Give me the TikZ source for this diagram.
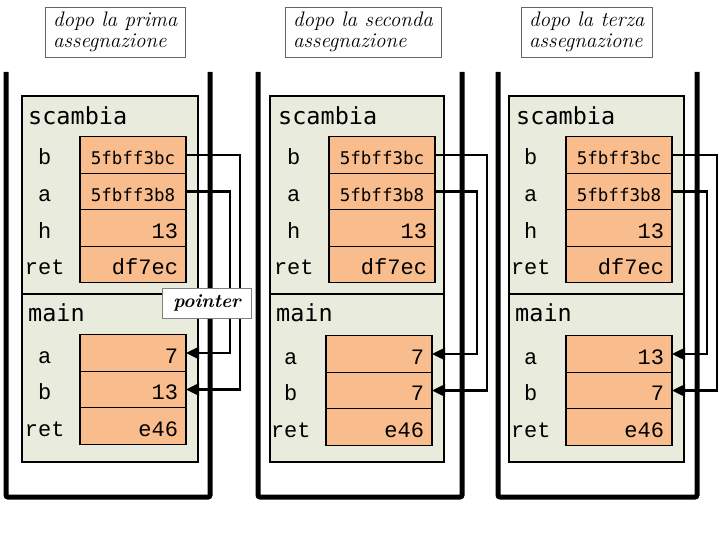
\documentclass[tikz,border=0pt]{standalone}
\usepackage{fontspec}
\newfontfamily\monosans{DejaVu Sans Mono}
\newfontfamily\courier{Liberation Mono}
\usetikzlibrary{positioning,arrows.meta}

\definecolor{framebg}{RGB}{233,236,221}
\definecolor{cellbg}{RGB}{249,188,140}

\tikzset{
  wall/.style={line width=5pt, rounded corners=2pt},
  frame/.style={draw, fill=framebg, line width=1.4pt},
  cell/.style={draw, fill=cellbg, line width=1.4pt, outer sep=0pt,
    minimum width=106pt, minimum height=36.5pt, inner xsep=8pt,
    text width=90pt, align=right, text height=21pt, text depth=1pt,
    font=\courier\fontsize{22}{22}\selectfont},
  addr/.style={cell, align=center, font=\monosans\fontsize{17.5}{17.5}\selectfont},
  lbl/.style={inner sep=0pt, text width=40pt, align=center,
    text height=21pt, text depth=1pt, font=\courier\fontsize{22}{22}\selectfont},
  head/.style={anchor=west, inner sep=0pt, font=\monosans\fontsize{23.5}{23.5}\selectfont},
  title/.style={draw=black!60, fill=white, anchor=west, align=left,
    inner xsep=8pt, inner ysep=5pt, font=\itshape\fontsize{21}{21}\selectfont},
  ptr/.style={line width=2.5pt, -{Triangle[length=13pt, width=12pt]}},
}

\begin{document}
\begin{tikzpicture}[x=1pt, y=-1pt]
\useasboundingbox (0,0) rectangle (720,540);

% titles
\node[title] (t1) at (45,32) {dopo la prima\\assegnazione};
\node[title] (t2) at (285,32) {dopo la seconda\\assegnazione};
\node[title] (t3) at (521,32) {dopo la terza\\assegnazione};

% first stack
\draw[wall] (6,72) -- (6,497) -- (210,497) -- (210,72);
\draw[frame] (22,96) rectangle (198,462);
\draw[line width=1.4pt] (22,294) -- (198,294);
\node[head] (h1s) at (28,116) {scambia};
\node[head] (h1m) at (28,313) {main};

\node[addr] (s1b) at (133,155) {5fbff3bc};
\node[addr, below=0pt of s1b] (s1a) {5fbff3b8};
\node[cell, below=0pt of s1a] (s1h) {13};
\node[cell, below=0pt of s1h] (s1r) {df7ec};
\node[lbl, left=15pt of s1b] (l1b) {b};
\node[lbl, left=15pt of s1a] (l1a) {a};
\node[lbl, left=15pt of s1h] (l1h) {h};
\node[lbl, left=15pt of s1r] (l1r) {ret};

\node[cell] (m1a) at (133,353) {7};
\node[cell, below=0pt of m1a] (m1b) {13};
\node[cell, below=0pt of m1b] (m1r) {e46};
\node[lbl, left=15pt of m1a] (k1a) {a};
\node[lbl, left=15pt of m1b] (k1b) {b};
\node[lbl, left=15pt of m1r] (k1r) {ret};

\draw[ptr] (s1b.east) -- ++(54,0) |- (m1b.east);
\draw[ptr] (s1a.east) -- ++(44,0) |- (m1a.east);

\node[draw=black!50, fill=white, minimum width=89pt, minimum height=30pt,
  font=\bfseries\itshape\fontsize{19}{19}\selectfont] (ptrl) at (207,303) {pointer};

% second stack
\draw[wall] (258,72) -- (258,497) -- (462,497) -- (462,72);
\draw[frame] (270,96) rectangle (444,462);
\draw[line width=1.4pt] (270,294) -- (444,294);
\node[head] (h2s) at (278,116) {scambia};
\node[head] (h2m) at (276,313) {main};

\node[addr] (s2b) at (382,155) {5fbff3bc};
\node[addr, below=0pt of s2b] (s2a) {5fbff3b8};
\node[cell, below=0pt of s2a] (s2h) {13};
\node[cell, below=0pt of s2h] (s2r) {df7ec};
\node[lbl, left=15pt of s2b] (l2b) {b};
\node[lbl, left=15pt of s2a] (l2a) {a};
\node[lbl, left=15pt of s2h] (l2h) {h};
\node[lbl, left=15pt of s2r] (l2r) {ret};

\node[cell] (m2a) at (379,354) {7};
\node[cell, below=0pt of m2a] (m2b) {7};
\node[cell, below=0pt of m2b] (m2r) {e46};
\node[lbl, left=15pt of m2a] (k2a) {a};
\node[lbl, left=15pt of m2b] (k2b) {b};
\node[lbl, left=15pt of m2r] (k2r) {ret};

\draw[ptr] (s2b.east) -- ++(52,0) |- (m2b.east);
\draw[ptr] (s2a.east) -- ++(42,0) |- (m2a.east);

% third stack
\draw[wall] (498,72) -- (498,497) -- (697,497) -- (697,72);
\draw[frame] (509,96) rectangle (684,462);
\draw[line width=1.4pt] (509,294) -- (684,294);
\node[head] (h3s) at (516,116) {scambia};
\node[head] (h3m) at (515,313) {main};

\node[addr] (s3b) at (619,155) {5fbff3bc};
\node[addr, below=0pt of s3b] (s3a) {5fbff3b8};
\node[cell, below=0pt of s3a] (s3h) {13};
\node[cell, below=0pt of s3h] (s3r) {df7ec};
\node[lbl, left=15pt of s3b] (l3b) {b};
\node[lbl, left=15pt of s3a] (l3a) {a};
\node[lbl, left=15pt of s3h] (l3h) {h};
\node[lbl, left=15pt of s3r] (l3r) {ret};

\node[cell] (m3a) at (619,354) {13};
\node[cell, below=0pt of m3a] (m3b) {7};
\node[cell, below=0pt of m3b] (m3r) {e46};
\node[lbl, left=15pt of m3a] (k3a) {a};
\node[lbl, left=15pt of m3b] (k3b) {b};
\node[lbl, left=15pt of m3r] (k3r) {ret};

\draw[ptr] (s3b.east) -- ++(45,0) |- (m3b.east);
\draw[ptr] (s3a.east) -- ++(35,0) |- (m3a.east);

\end{tikzpicture}
\end{document}
